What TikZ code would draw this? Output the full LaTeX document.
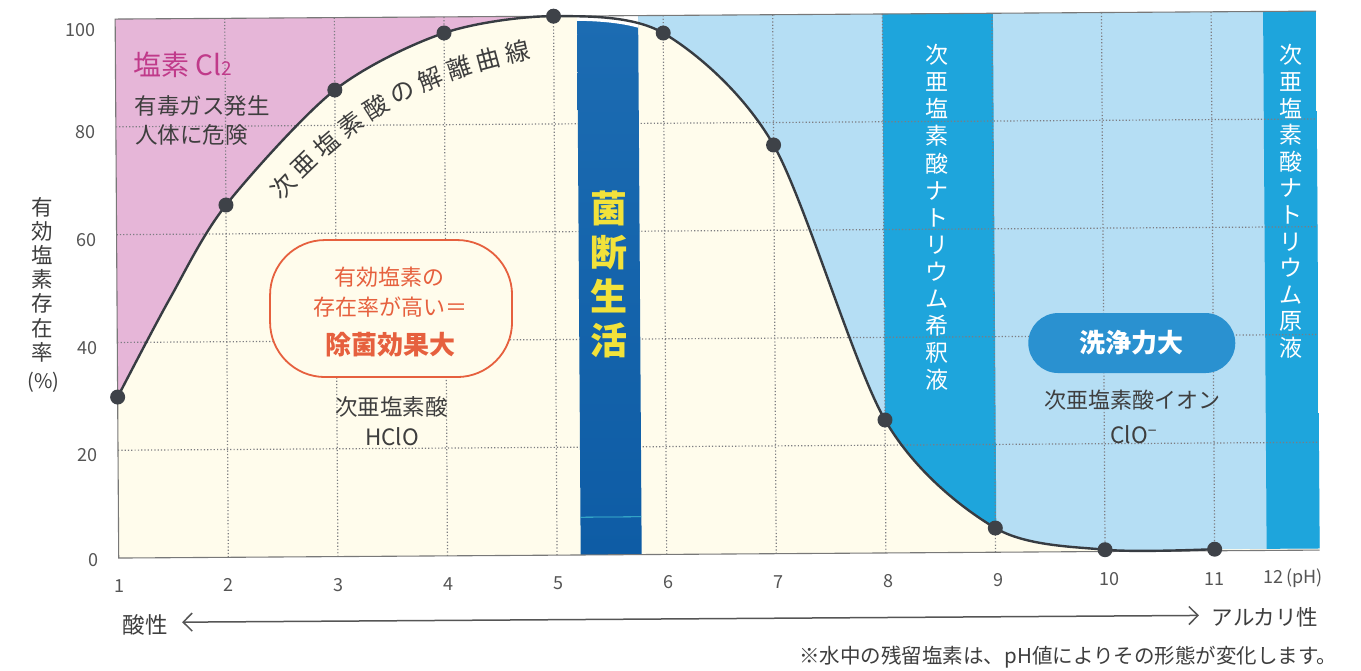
\documentclass[tikz,border=0pt]{standalone}
\usepackage{fontspec}
\setmainfont{Noto Sans CJK JP}
\usetikzlibrary{arrows.meta,decorations.text}
\definecolor{cream}{RGB}{255,252,236}
\definecolor{pinkbg}{RGB}{230,182,216}
\definecolor{lightblue}{RGB}{181,222,244}
\definecolor{midblue}{RGB}{30,165,220}
\definecolor{bandtop}{RGB}{28,108,178}
\definecolor{bandbot}{RGB}{14,92,165}
\definecolor{pillblue}{RGB}{42,145,208}
\definecolor{gridgray}{RGB}{125,125,130}
\definecolor{framegray}{RGB}{120,120,120}
\definecolor{curvecol}{RGB}{55,60,66}
\definecolor{dotcol}{RGB}{62,66,72}
\definecolor{txtgray}{RGB}{62,62,62}
\definecolor{axgray}{RGB}{85,85,85}
\definecolor{magentatxt}{RGB}{192,58,138}
\definecolor{orangetxt}{RGB}{230,96,62}
\definecolor{yellowtxt}{RGB}{242,226,58}
\definecolor{cyanline}{RGB}{70,200,215}
\newcommand\fsz[2]{\fontsize{#1}{#2}\selectfont}
\newcommand\crv{plot[smooth,tension=0.5] coordinates {(117,393.4) (170,295) (226.6,202.1) (336.2,87.8) (445.8,31.5) (555.4,15.4) (665,33.0) (774.6,145.7) (884.2,421.4) (993.8,530.2) (1103.4,552.6) (1213,552.8)}}
\tikzset{
  gridline/.style={gridgray, line width=1.2pt, dash pattern=on 1.2pt off 2.1pt},
  dotnode/.style={circle, fill=dotcol, inner sep=0pt, minimum size=15pt},
  axl/.style={text=axgray, font=\fsz{18}{21}, inner sep=0pt},
  gtxt/.style={text=txtgray, inner sep=0pt},
  vstack/.style={align=center, inner sep=0pt},
}
\begin{document}
\begin{tikzpicture}[x=1pt,y=-1pt]
\fill[white] (0,0) rectangle (1361,670);
\useasboundingbox (0,0) rectangle (1361,670);
\begin{scope}[rotate around={0.38:(668,300)}]
  % background of plot
  \fill[cream] (117,15.4) rectangle (1318,554.4);
  \begin{scope}
    \clip \crv -- (1318,552.8) -- (1318,15.4) -- (117,15.4) -- cycle;
    \fill[pinkbg] (117,0) rectangle (555.4,560);
    \fill[lightblue] (555.4,0) rectangle (1318,560);
    \fill[midblue] (884.2,0) rectangle (994.8,560);
    \fill[midblue] (1265,0) rectangle (1318,560);
  \end{scope}
  % grid
  \foreach \k in {2,...,11} {
    \draw[gridline] ({117+109.6*(\k-1)},15.4) -- ({117+109.6*(\k-1)},554.4);
  }
  \foreach \v in {20,40,60,80} {
    \draw[gridline] (117,{554.4-5.39*\v}) -- (1318,{554.4-5.39*\v});
  }
  % dark band
  \shade[top color=bandtop, bottom color=bandbot] (579,15.4) rectangle (640,554.4);
  \begin{scope}
    \clip (579,10) rectangle (640,554.4);
    \fill[white] \crv -- (1318,552.8) -- (1318,10) -- (117,10) -- cycle;
    \draw[white, line width=9pt] \crv;
  \end{scope}
  \draw[cyanline, line width=0.8pt] (579,516.6) -- (640,516.6);
  % frame
  \draw[framegray, line width=1.1pt] (1318,15.4) -- (117,15.4) -- (117,554.4) -- (1318,554.4);
  % curve
  \draw[curvecol, line width=2.4pt] \crv;
  \foreach \x/\y [count=\i] in {117/393.4, 226.6/202.1, 336.2/87.8, 445.8/31.5, 555.4/15.4, 665/33.0, 774.6/145.7, 884.2/421.4, 993.8/530.2, 1103.4/552.6, 1213/552.8} {
    \node[dotnode] (p\i) at (\x,\y) {};
  }
  % y axis labels
  \node[axl, anchor=east] (y100) at (97,26.2) {100};
  \node[axl, anchor=east] (y80) at (97,128.2) {80};
  \node[axl, anchor=east] (y60) at (97,236.2) {60};
  \node[axl, anchor=east] (y40) at (97,344.2) {40};
  \node[axl, anchor=east] (y20) at (97,451.2) {20};
  \node[axl, anchor=east] (y0) at (97,556.2) {0};
  % x axis labels
  \foreach \x/\t [count=\i] in {118/1, 227/2, 337/3, 447/4, 557/5, 667/6, 777/7, 887/8, 997/9, 1108/10, 1213/11} {
    \node[axl] (x\i) at (\x,582.5) {\t};
  }
  \node[axl, anchor=west] (x12) at (1261,582.5) {12\,(pH)};
  % y axis title
  \node[gtxt, vstack, font=\fsz{21.5}{24.2}] (ytitle) at (42,275.4) {有\\効\\塩\\素\\存\\在\\率};
  \node[gtxt, font=\fsz{20}{24}] (ypct) at (43,378) {(\%)};
  % chlorine area
  \node[anchor=west, text=magentatxt, inner sep=0pt, font=\fsz{28}{32}] (cl2) at (135,61.5) {塩素 Cl{\fsz{19}{22}2}};
  \node[gtxt, anchor=west, font=\fsz{22.5}{26}] (toxic1) at (136,102.5) {有毒ガス発生};
  \node[gtxt, anchor=west, font=\fsz{22.5}{26}] (toxic2) at (136,131.5) {人体に危険};
  % curve label (text along the curve)
  \coordinate (tlA) at (281.3,199.8);
  \coordinate (tlB) at (534.1,57.7);
  \path[decorate, decoration={text along path, text align=center,
      text={|\fsz{24.5}{28}\color{txtgray}|次 亜 塩 素 酸 の 解 離 曲 線}}]
    (tlA) .. controls (363.1,112) and (426.1,78.7) .. (tlB);
  % rounded box
  \node[draw=orangetxt, line width=1.8pt, fill=cream, rounded corners=55pt, minimum width=242pt, minimum height=137pt, inner sep=0pt] (effbox) at (391,306.7) {};
  \node[text=orangetxt, inner sep=0pt, font=\fsz{22}{26}] (eff1) at (390,275) {有効塩素の};
  \node[text=orangetxt, inner sep=0pt, font=\fsz{22}{26}] (eff2) at (390,305) {存在率が高い＝};
  \node[text=orangetxt, inner sep=0pt, font=\bfseries\fsz{26}{30}] (eff3) at (390,343) {除菌効果大};
  \node[gtxt, font=\fsz{22.5}{26}] (hclo1) at (391,405) {次亜塩素酸};
  \node[gtxt, font=\fsz{22.5}{26}] (hclo2) at (391,435) {HClO};
  % dark band text
  \node[vstack, text=yellowtxt, font=\bfseries\fsz{37}{44.3}] (kin) at (609.5,274) {菌\\断\\生\\活};
  % band texts
  \node[vstack, text=white, font=\fsz{23}{27.1}] (dil) at (938,219.3) {次\\亜\\塩\\素\\酸\\ナ\\ト\\リ\\ウ\\ム\\希\\釈\\液};
  \node[vstack, text=white, font=\fsz{23}{26.6}] (orig) at (1292,205.6) {次\\亜\\塩\\素\\酸\\ナ\\ト\\リ\\ウ\\ム\\原\\液};
  % pill
  \node[fill=pillblue, rounded corners=30pt, minimum width=207pt, minimum height=60pt, inner sep=0pt, text=white, font=\bfseries\fsz{26}{30}] (pill) at (1131.5,346.1) {洗浄力大};
  \node[gtxt, font=\fsz{22}{26}] (clo1) at (1132,403) {次亜塩素酸イオン};
  \node[gtxt, font=\fsz{22.5}{26}] (clo2) at (1133,438) {ClO\textsuperscript{−}};
  % acidity arrow
  \node[gtxt, font=\fsz{22.5}{26}] (acid) at (143,621.5) {酸性};
  \node[gtxt, font=\fsz{21.5}{25}] (alk) at (1263,621) {アルカリ性};
  \coordinate (arrL) at (180,619);
  \coordinate (arrR) at (1197,619);
  \draw[axgray, line width=1.5pt, {Straight Barb[length=9pt,width=18pt]}-{Straight Barb[length=9pt,width=18pt]}] (arrL) -- (arrR);
  % footnote
  \node[gtxt, anchor=east, font=\fsz{20.5}{24}] (note) at (1335,661.4) {※水中の残留塩素は、pH値によりその形態が変化します。};
\end{scope}
\end{tikzpicture}
\end{document}
